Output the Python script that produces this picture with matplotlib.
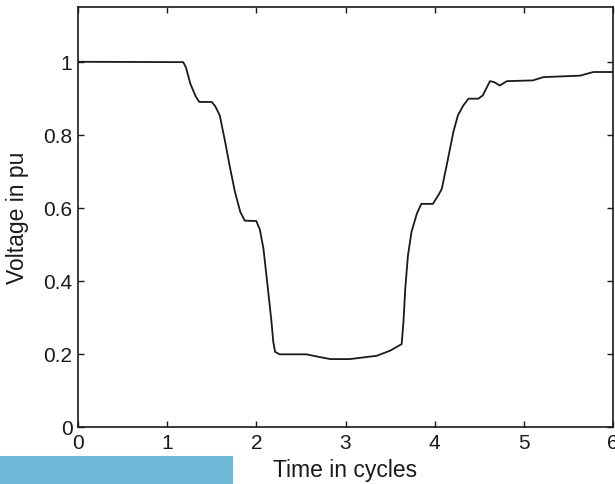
import matplotlib
matplotlib.use("Agg")
import matplotlib.pyplot as plt
from matplotlib.patches import Rectangle

plt.rcParams['font.family'] = ['Liberation Sans', 'DejaVu Sans']

time_cycles = [0.00, 1.18, 1.21, 1.26, 1.32, 1.36, 1.50, 1.54, 1.59, 1.65, 1.70, 1.76, 1.82, 1.87,
               2.00, 2.04, 2.08, 2.13, 2.17, 2.19, 2.21, 2.26, 2.56, 2.70, 2.83, 3.05, 3.35,
               3.50, 3.63, 3.65, 3.67, 3.70, 3.74, 3.80, 3.85, 3.98, 4.04, 4.08,
               4.13, 4.21, 4.26, 4.32, 4.38, 4.49, 4.54, 4.62, 4.67, 4.73, 4.81,
               5.10, 5.22, 5.63, 5.78, 6.00]
voltage_pu = [1.000, 0.999, 0.985, 0.940, 0.905, 0.890, 0.890, 0.878, 0.853, 0.781, 0.716, 0.644, 0.589, 0.565,
              0.564, 0.540, 0.488, 0.378, 0.288, 0.233, 0.206, 0.199, 0.199, 0.192, 0.186, 0.186, 0.195,
              0.209, 0.227, 0.288, 0.378, 0.469, 0.534, 0.584, 0.611, 0.611, 0.634, 0.652,
              0.711, 0.808, 0.853, 0.880, 0.899, 0.899, 0.908, 0.947, 0.944, 0.935, 0.947,
              0.949, 0.958, 0.962, 0.972, 0.972]

x_ticks = [0, 1, 2, 3, 4, 5, 6]
y_ticks = [0, 0.2, 0.4, 0.6, 0.8, 1.0]
y_tick_labels = ['0', '0.2', '0.4', '0.6', '0.8', '1']

fig = plt.figure(figsize=(6.15, 4.85), dpi=100)
ax = fig.add_axes([78/615, 57/485, 535/615, 420/485])
ax.plot(time_cycles, voltage_pu, color='#1a1a1a', linewidth=1.3)

ax.set_xlim(0, 6)
ax.set_ylim(0, 1.15)
ax.set_xticks(x_ticks)
ax.set_xticklabels([str(t) for t in x_ticks])
ax.set_yticks(y_ticks)
ax.set_yticklabels(y_tick_labels)
ax.tick_params(direction='in', length=4, width=1, top=True, right=True,
               labelsize=15, pad=4, colors='#1a1a1a')
for s in ax.spines.values():
    s.set_linewidth(1.2)
    s.set_color('#1a1a1a')

ax.set_xlabel('Time in cycles', fontsize=16.5, color='#1a1a1a')
ax.set_ylabel('Voltage in pu', fontsize=16.5, color='#1a1a1a')
ax.xaxis.set_label_coords(0.5, -0.075)
ax.yaxis.set_label_coords(-0.092, 0.5)

fig.patches.append(Rectangle((0, 0), 233/615, 28/485, transform=fig.transFigure,
                             facecolor='#6FB9D8', edgecolor='none', zorder=5))

fig.savefig('out.png', dpi=100)
